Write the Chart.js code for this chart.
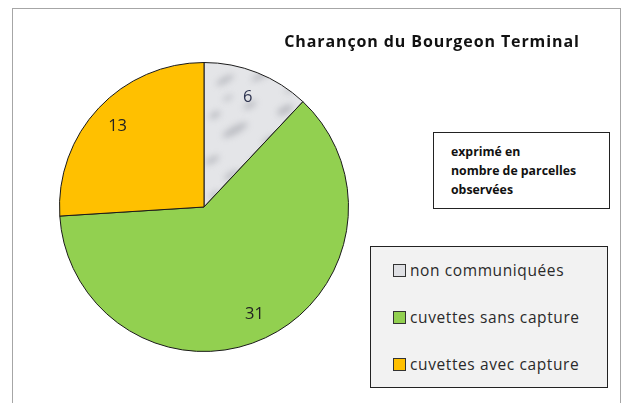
<!DOCTYPE html>
<html>
<head>
<meta charset="utf-8">
<script src="https://cdn.jsdelivr.net/npm/chart.js@4"></script>
<style>
    body { margin: 0; background: #fff; }
    #wrap { position: relative; width: 623px; height: 403px; overflow: hidden; }
    #frame { position: absolute; left: 12px; top: 8px; width: 607px; height: 420px; border: 1px solid #a6a6a6; }
    canvas { position: absolute; left: 0; top: 0; }
    .title { position: absolute; left: 262px; width: 340px; top: 30px; text-align: center; font: bold 16px "Open Sans", sans-serif; letter-spacing: 0.9px; color: #111; }
    #note { position: absolute; left: 433px; top: 132px; width: 177px; height: 77px; border: 1px solid #222; background: #fff;
            font: bold 12.3px "Open Sans", sans-serif; color: #111; line-height: 19px; box-sizing: border-box; padding: 9px 0 0 17px; }
    #legend { position: absolute; left: 370px; top: 246px; width: 238px; height: 142px; border: 1px solid #222; background: #f2f2f2; box-sizing: border-box; }
    .item { position: absolute; left: 22px; font: 15.5px "Open Sans", sans-serif; letter-spacing: 0.6px; color: #2a2a2a; white-space: nowrap; }
    .item span { display: inline-block; width: 11px; height: 11px; border: 1px solid #333; margin-right: 4px; vertical-align: -1px; }
</style>
</head>
<body>
<div id="wrap">
    <div id="frame"></div>
    <canvas id="pieChart" width="623" height="403"></canvas>
    <div class="title">Charançon du Bourgeon Terminal</div>
    <div id="note">exprimé en<br>nombre de parcelles<br>observées</div>
    <div id="legend"></div>
</div>
<script>
const labels = ["non communiquées", "cuvettes sans capture", "cuvettes avec capture"];
const values = [6, 31, 13];
const colors = ["#dfe0e4", "#92d050", "#ffc000"];
const labelColors = ["#2f3550", "#222", "#222"];

// grey marble-like fill for the first slice (one big tile, no visible seams)
function marble() {
    const c = document.createElement("canvas");
    c.width = 400; c.height = 400;
    const g = c.getContext("2d");
    g.fillStyle = "#e4e5e8";
    g.fillRect(0, 0, 400, 400);
    g.filter = "blur(3px)";
    const blots = [[225, 80, 10, 3], [262, 75, 12, 3], [285, 110, 9, 4], [235, 130, 14, 4], [212, 160, 8, 3],
                   [270, 140, 9, 3], [250, 105, 7, 3], [215, 115, 6, 3], [232, 175, 9, 3], [255, 160, 7, 2],
                   [215, 195, 6, 3], [228, 98, 5, 2], [290, 90, 6, 2]];
    blots.forEach(b => {
        g.save();
        g.translate(b[0], b[1]);
        g.rotate(-0.5);
        g.fillStyle = "rgba(140,142,150,0.45)";
        g.beginPath();
        g.ellipse(0, 0, b[2], b[3], 0, 0, Math.PI * 2);
        g.fill();
        g.restore();
    });
    return g.createPattern(c, "no-repeat");
}

const fills = colors.slice();
const ctx = document.getElementById("pieChart");
fills[0] = marble();

const legend = document.getElementById("legend");
labels.forEach((l, i) => {
    const d = document.createElement("div");
    d.className = "item";
    d.style.top = (12 + i * 47) + "px";
    d.innerHTML = '<span style="background:' + colors[i] + '"></span>' + l;
    legend.appendChild(d);
});

const valueLabels = {
    id: "valueLabels",
    afterDatasetsDraw(chart) {
        const c = chart.ctx;
        const meta = chart.getDatasetMeta(0);
        c.save();
        c.font = "16.5px 'Open Sans', sans-serif";
        c.textAlign = "center";
        c.textBaseline = "middle";
        meta.data.forEach((arc, i) => {
            const mid = (arc.startAngle + arc.endAngle) / 2;
            const r = arc.outerRadius * 0.82;
            c.fillStyle = labelColors[i];
            c.fillText(values[i], arc.x + Math.cos(mid) * r, arc.y + Math.sin(mid) * r);
        });
        c.restore();
    }
};

new Chart(ctx, {
    type: "pie",
    data: {
        labels: labels,
        datasets: [{
            data: values,
            backgroundColor: fills,
            borderColor: "#1a1a1a",
            borderWidth: 1
        }]
    },
    options: {
        responsive: false,
        animation: false,
        layout: { padding: { left: 59, top: 62, right: 274, bottom: 51 } },
        plugins: {
            legend: { display: false },
            tooltip: { enabled: false }
        }
    },
    plugins: [valueLabels]
});
</script>
</body>
</html>
